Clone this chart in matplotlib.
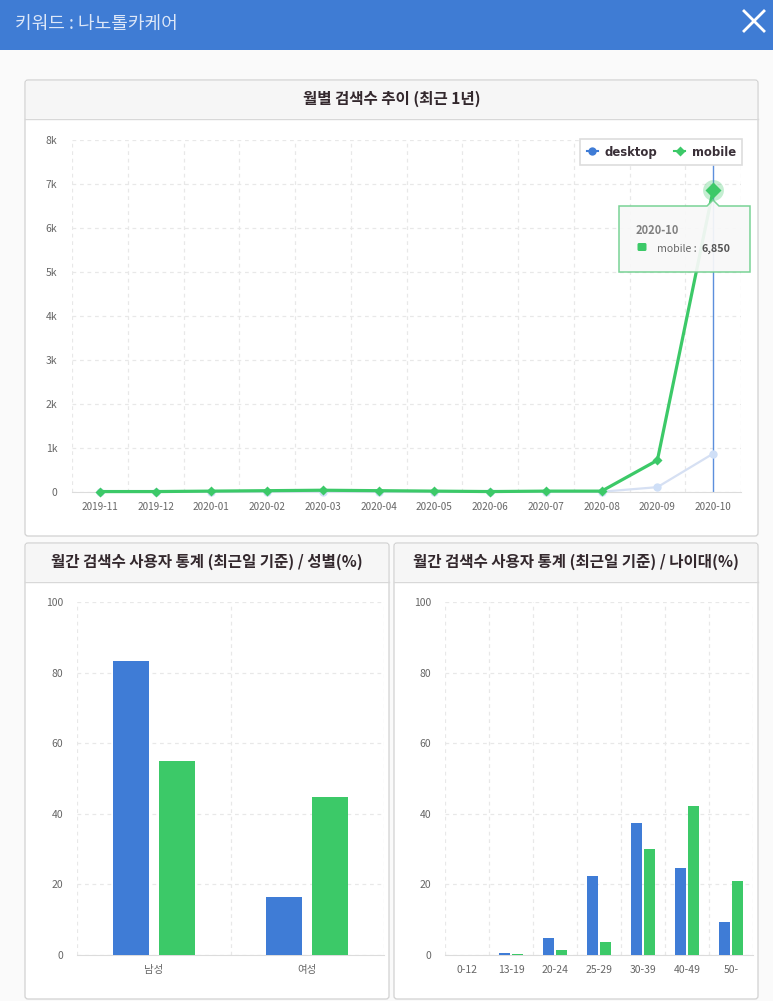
import matplotlib
matplotlib.use('Agg')
import matplotlib.pyplot as plt
from matplotlib.patches import Rectangle, FancyBboxPatch, Polygon
from matplotlib.lines import Line2D
import numpy as np

plt.rcParams['font.family'] = ['Noto Sans CJK KR', 'DejaVu Sans']

# --- data ---
months = ['2019-11', '2019-12', '2020-01', '2020-02', '2020-03', '2020-04',
          '2020-05', '2020-06', '2020-07', '2020-08', '2020-09', '2020-10']
desktop = [2, 2, 4, 6, 8, 6, 4, 2, 4, 6, 110, 870]
mobile = [10, 10, 20, 30, 40, 30, 20, 10, 20, 20, 720, 6850]

gender_labels = ['남성', '여성']
gender_desktop = [83.3, 16.5]
gender_mobile = [55.0, 44.7]

age_labels = ['0-12', '13-19', '20-24', '25-29', '30-39', '40-49', '50-']
age_desktop = [0, 0.7, 4.8, 22.3, 37.4, 24.6, 9.4]
age_mobile = [0, 0.4, 1.5, 3.7, 30.0, 42.2, 21.0]

month_ticks = [0, 1000, 2000, 3000, 4000, 5000, 6000, 7000, 8000]
month_tick_labels = ['0', '1k', '2k', '3k', '4k', '5k', '6k', '7k', '8k']
pct_ticks = [0, 20, 40, 60, 80, 100]

# --- colors ---
BLUE = '#3f7cd6'
GREEN = '#3cc968'
HEADER = '#3f7cd4'
W, H = 773, 1001


def px_axes(x0, y0, x1, y1, **kw):
    return fig.add_axes([x0 / W, 1 - y1 / H, (x1 - x0) / W, (y1 - y0) / H], **kw)


def panel(x0, y0, x1, y1, title):
    bg.add_patch(FancyBboxPatch((x0, y0), x1 - x0, y1 - y0, boxstyle='round,pad=0,rounding_size=3',
                                fc='white', ec='#d2d2d2', lw=0.9))
    bg.add_patch(Rectangle((x0 + 1, y0 + 1), x1 - x0 - 2, 37, fc='#f6f6f6', ec='none'))
    bg.plot([x0, x1], [y0 + 38.5, y0 + 38.5], color='#d8d8d8', lw=1)
    bg.text((x0 + x1) / 2, y0 + 18.5, title, ha='center', va='center', fontsize=11.2,
            fontweight='bold', color='#33282d')


def style_axes(ax, n, labels):
    ax.set_facecolor('none')
    for s in ['top', 'left', 'right']:
        ax.spines[s].set_visible(False)
    ax.spines['bottom'].set_color('#dcdcdc')
    ax.set_xlim(-0.5, n - 0.5)
    ax.set_xticks(range(n))
    ax.set_xticklabels(labels)
    ax.set_xticks(np.arange(n + 1) - 0.5, minor=True)
    ax.tick_params(axis='both', which='both', length=0, labelsize=7.5, labelcolor='#666666')
    ax.tick_params(axis='x', pad=7)
    ax.tick_params(axis='y', pad=10)
    ax.grid(True, axis='y', which='major', linestyle=(0, (3, 3)), color='#e8e8e8', lw=0.9)
    ax.grid(True, axis='x', which='minor', linestyle=(0, (3, 3)), color='#e8e8e8', lw=0.9)
    ax.set_axisbelow(True)


def draw_bars(ax, labels, vals_a, vals_b):
    x = np.arange(len(labels))
    ax.bar(x - 0.15, vals_a, 0.235, color=BLUE, zorder=3)
    ax.bar(x + 0.15, vals_b, 0.235, color=GREEN, zorder=3)
    ax.set_ylim(0, 100)
    ax.set_yticks(pct_ticks)
    style_axes(ax, len(labels), labels)


fig = plt.figure(figsize=(W / 100, H / 100), dpi=100, facecolor='#fafafa')

# background layer in pixel coordinates (window + panels)
bg = fig.add_axes([0, 0, 1, 1], zorder=0)
bg.set_xlim(0, W)
bg.set_ylim(H, 0)
bg.axis('off')
bg.add_patch(Rectangle((0, 0), W, 49.5, fc=HEADER, ec='none'))
bg.text(15, 23.5, '키워드 : 나노톨카케어', color='#dce7f8', fontsize=13, va='center', ha='left')
bg.plot([744, 764], [11, 31], color='white', lw=2)
bg.plot([744, 764], [31, 11], color='white', lw=2)

panel(25, 80, 758, 536, '월별 검색수 추이 (최근 1년)')
panel(25, 543, 389, 999, '월간 검색수 사용자 통계 (최근일 기준) / 성별(%)')
panel(394, 543, 758, 999, '월간 검색수 사용자 통계 (최근일 기준) / 나이대(%)')

# --- monthly trend ---
ax1 = px_axes(72, 139.5, 741, 492, zorder=1)
x = np.arange(len(months))
ax1.set_ylim(0, 8000)
ax1.set_yticks(month_ticks)
ax1.set_yticklabels(month_tick_labels)
style_axes(ax1, len(months), months)
ax1.tick_params(axis='y', pad=10.5)
ax1.tick_params(axis='x', labelsize=7.2)
ax1.axvline(x[-1], color=BLUE, lw=1, alpha=0.85, zorder=2)
ax1.plot(x, desktop, color='#d6e0f3', lw=1.6, marker='o', ms=6, mfc='#cfdff7', mec='none',
         zorder=3, clip_on=False)
ax1.plot(x, mobile, color=GREEN, lw=2.3, marker='D', ms=4.6, mfc=GREEN, mec='none',
         zorder=4, clip_on=False)
ax1.plot(x[-1], mobile[-1], marker='o', ms=15, color=GREEN, alpha=0.3, mec='none', zorder=4)
ax1.plot(x[-1], mobile[-1], marker='D', ms=8.5, color=GREEN, mec='none', zorder=5)

handles = [Line2D([], [], color=BLUE, lw=1.5, marker='o', ms=6, mec='none'),
           Line2D([], [], color=GREEN, lw=1.5, marker='D', ms=4.8, mec='none')]
leg = ax1.legend(handles, ['desktop', 'mobile'], ncol=2, loc='upper right',
                 bbox_to_anchor=(1.002, 1.001), borderaxespad=0, fancybox=False, framealpha=1,
                 edgecolor='#dddddd', handlelength=0.95, handletextpad=0.55,
                 columnspacing=1.5, borderpad=0.55, labelcolor='#3a3038',
                 prop={'family': ['DejaVu Sans'], 'size': 8.4, 'weight': 'bold'})
leg.set_zorder(6)
leg.get_frame().set_linewidth(1.2)

# --- gender / age bars ---
ax2 = px_axes(77, 602, 384, 955, zorder=1)
draw_bars(ax2, gender_labels, gender_desktop, gender_mobile)
ax3 = px_axes(445, 602, 753, 955, zorder=1)
draw_bars(ax3, age_labels, age_desktop, age_mobile)

# --- tooltip ---
top = fig.add_axes([0, 0, 1, 1], zorder=5)
top.set_xlim(0, W)
top.set_ylim(H, 0)
top.axis('off')
top.patch.set_alpha(0)
top.add_patch(Polygon([(619, 206), (707, 206), (713, 200), (719, 206), (750, 206),
                       (750, 272), (619, 272)], closed=True, fc='#f8f8f8', ec='#6fd08e',
                      lw=1.1, alpha=0.93))
top.text(636, 230, months[-1], fontsize=8, fontweight='bold', color='#808080', va='center')
top.add_patch(FancyBboxPatch((637.5, 243), 9, 8, boxstyle='round,pad=0,rounding_size=1.5',
                             fc=GREEN, ec='none'))
top.text(657, 249, 'mobile :', fontsize=7.6, color='#666666', va='center')
top.text(702, 249, f'{mobile[-1]:,}', fontsize=7.8, fontweight='bold', color='#555555', va='center')

fig.savefig('out.png', dpi=100, facecolor=fig.get_facecolor())
